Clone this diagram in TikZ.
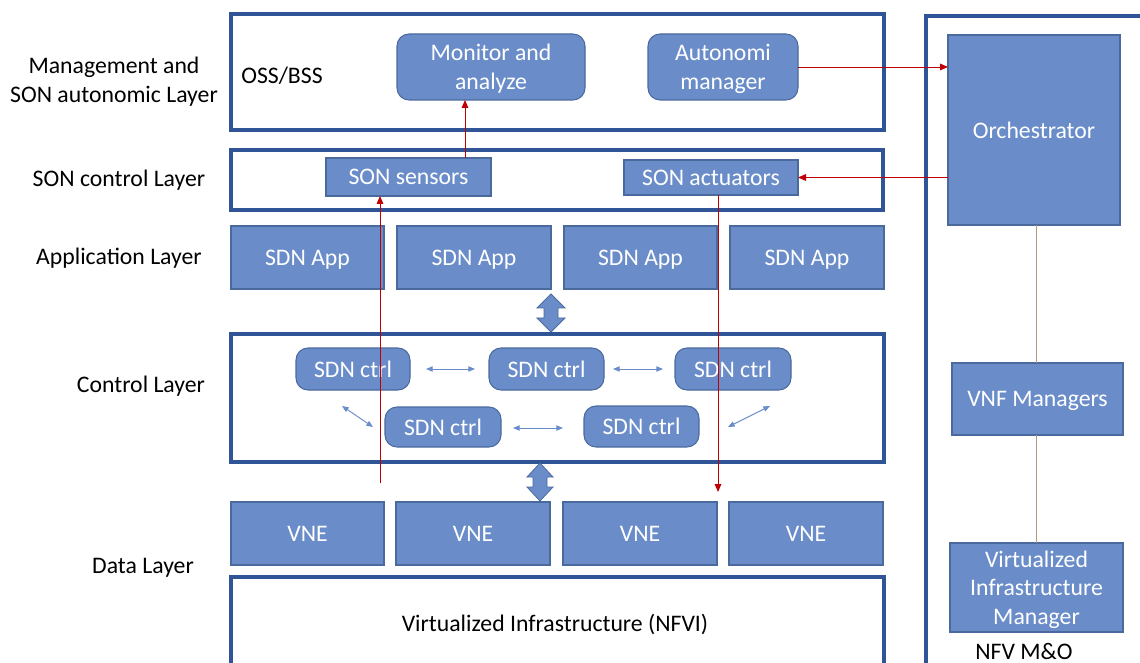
\documentclass[tikz,border=0pt]{standalone}
\usepackage{fontspec}
\setmainfont{Carlito}
\usetikzlibrary{arrows.meta}
\definecolor{fillblue}{HTML}{6A8DCA}
\definecolor{edgeblue}{HTML}{4A6A9E}
\definecolor{layerblue}{HTML}{2F5597}
\definecolor{redline}{HTML}{C00000}
\definecolor{brownline}{HTML}{B8957A}
\newcommand{\bx}[7]{\node[#7, minimum width={(#4-#2)*0.75pt}, minimum height={(#5-#3)*0.75pt}] (#1) at ({(#2+#4)/2},{(#3+#5)/2}) {#6};}
\tikzset{
  base/.style={inner sep=0pt, outer sep=0pt, font=\fontsize{17.8}{21.5}\selectfont},
  blk/.style={base, draw=edgeblue, line width=0.8pt, fill=fillblue, text=white, align=center, text depth=0pt},
  rblk/.style={blk, rounded corners=9pt},
  layer/.style={base, draw=layerblue, line width=2.8pt},
  lbl/.style={base, text=black, align=center},
  redarr/.style={draw=redline, line width=0.7pt, -{Triangle[length=6pt,width=5pt]}},
  brown/.style={draw=brownline, line width=0.7pt},
  smallarr/.style={draw=fillblue, line width=0.7pt, {Triangle[length=5pt,width=4pt]}-{Triangle[length=5pt,width=4pt]}},
  bigarr/.style={fill=fillblue, draw=edgeblue, line width=0.6pt}
}
\begin{document}
\begin{tikzpicture}[x=0.75pt, y=-0.75pt]
\clip (0,0) rectangle (1140,663);
\fill[white] (0,0) rectangle (1140,663);
% layer boxes
\bx{mgmt}{231}{14}{884}{130}{}{layer}
\bx{sonc}{231}{150}{883}{210}{}{layer}
\bx{ctrl}{231}{334}{884}{462}{}{layer}
\bx{nfvi}{231}{577}{884}{700}{}{layer}
\bx{nfvmo}{926}{16}{1160}{700}{}{layer}
\node[lbl] (nfvitext) at (555,624) {Virtualized Infrastructure (NFVI)};
\node[lbl] (oss) at (282,76) {OSS/BSS};
\node[lbl] (nfvmotext) at (1024,651) {NFV M\&O};
% left labels
\node[lbl] (l1) at (114,82) {Management and\\SON autonomic Layer};
\node[lbl] (l2) at (119,180) {SON control Layer};
\node[lbl] (l3) at (119,258) {Application Layer};
\node[lbl] (l4) at (141,386) {Control Layer};
\node[lbl] (l5) at (143,568) {Data Layer};
% management
\bx{mon}{397}{34}{585}{100}{Monitor and\\analyze}{rblk}
\bx{aut}{648}{34}{798}{100}{Autonomi\\manager}{rblk}
% son control
\bx{sens}{326}{158}{491}{196}{SON sensors}{blk}
\bx{act}{624}{160}{798}{195}{SON actuators}{blk}
% apps
\bx{app1}{231}{226}{384}{289}{SDN App}{blk}
\bx{app2}{397}{226}{551}{289}{SDN App}{blk}
\bx{app3}{564}{226}{717}{289}{SDN App}{blk}
\bx{app4}{730}{226}{884}{289}{SDN App}{blk}
% controllers
\bx{c1}{296}{348}{410}{390}{SDN ctrl}{rblk}
\bx{c2}{489}{348}{604}{390}{SDN ctrl}{rblk}
\bx{c3}{675}{348}{791}{390}{SDN ctrl}{rblk}
\bx{c4}{385}{407}{501}{447}{SDN ctrl}{rblk}
\bx{c5}{584}{406}{699}{447}{SDN ctrl}{rblk}
\coordinate (s1a) at (426,369); \coordinate (s1b) at (475,369);
\coordinate (s2a) at (613,369); \coordinate (s2b) at (663,369);
\coordinate (s3a) at (513,428); \coordinate (s3b) at (563,428);
\coordinate (s4a) at (342,406); \coordinate (s4b) at (373,427);
\coordinate (s5a) at (728,427); \coordinate (s5b) at (770,406);
\draw[smallarr] (s1a) -- (s1b);
\draw[smallarr] (s2a) -- (s2b);
\draw[smallarr] (s3a) -- (s3b);
\draw[smallarr] (s4a) -- (s4b);
\draw[smallarr] (s5a) -- (s5b);
% data layer
\bx{vne1}{231}{502}{384}{565}{VNE}{blk}
\bx{vne2}{396}{502}{550}{565}{VNE}{blk}
\bx{vne3}{563}{502}{717}{565}{VNE}{blk}
\bx{vne4}{729}{502}{883}{565}{VNE}{blk}
% big double arrows
\draw[bigarr] (551,294) -- (565,308) -- (558,308) -- (558,318) -- (565,318) -- (551,332) -- (537,318) -- (544,318) -- (544,308) -- (537,308) -- cycle;
\draw[bigarr] (540,463) -- (553,477) -- (547,477) -- (547,487) -- (553,487) -- (540,501) -- (527,487) -- (533,487) -- (533,477) -- (527,477) -- cycle;
% NFV MANO
\bx{orch}{948}{35}{1120}{225}{Orchestrator}{blk}
\bx{vnfm}{952}{363}{1123}{435}{VNF Managers}{blk}
\bx{vim}{950}{543}{1123}{632}{Virtualized\\Infrastructure\\Manager}{blk}
\draw[brown] (orch.south -| 1036,0) -- (vnfm.north -| 1036,0);
\draw[brown] (vnfm.south -| 1036,0) -- (vim.north -| 1036,0);
% red arrows
\coordinate (monx) at (465,0);
\draw[redarr] (sens.north -| monx) -- (mon.south -| monx);
\coordinate (sensfoot) at (380,483);
\draw[redarr] (sensfoot) -- (sensfoot |- sens.south);
\coordinate (actfoot) at (718,492);
\draw[redarr] (act.south -| actfoot) -- (actfoot);
\draw[redarr] (aut.east) -- (orch.west |- aut.east);
\draw[redarr] (orch.west |- act.east) -- (act.east);
\end{tikzpicture}
\end{document}
